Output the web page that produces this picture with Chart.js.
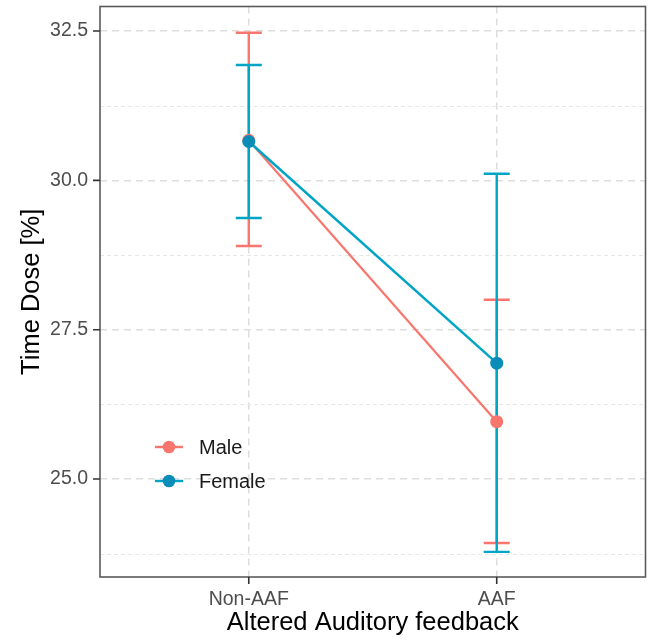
<!DOCTYPE html>
<html>
<head>
<meta charset="utf-8">
<script src="https://cdn.jsdelivr.net/npm/chart.js@4/dist/chart.umd.min.js"></script>
<style>
  html, body { margin: 0; padding: 0; background: #ffffff; }
  #wrap { width: 652px; height: 641px; position: relative; }
</style>
</head>
<body>
<div id="wrap"><canvas id="c" width="652" height="641"></canvas></div>
<script>
// ---- data ----
const categories = ['Non-AAF', 'AAF'];
const xPositions = [1, 2];
const seriesNames = ['Male', 'Female'];
const maleMean = [30.67, 25.96];
const maleUpper = [32.47, 28.00];
const maleLower = [28.90, 23.93];
const femaleMean = [30.65, 26.94];
const femaleUpper = [31.93, 30.11];
const femaleLower = [29.37, 23.78];
const yMajorTicks = [25.0, 27.5, 30.0, 32.5];
const yMinorTicks = [23.75, 26.25, 28.75, 31.25];
const xTitle = 'Altered Auditory feedback';
const yTitle = 'Time Dose [%]';

const FONT = "'Liberation Sans', Arial, Helvetica, sans-serif";
const MALE_COL = '#F8766D';
const FEMALE_LINE = '#00A5C5';
const FEMALE_PT = '#0A8CB9';

function pts(arr) { return xPositions.map((x, i) => ({ x: x, y: arr[i] })); }

const errorBarPlugin = {
  id: 'errorBars',
  beforeDatasetsDraw(chart) {
    const ctx = chart.ctx;
    const xs = chart.scales.x, ys = chart.scales.y;
    chart.data.datasets.forEach(ds => {
      ctx.save();
      ctx.strokeStyle = ds.borderColor;
      ctx.lineWidth = 2.4;
      ctx.setLineDash([]);
      xPositions.forEach((xv, i) => {
        const px = xs.getPixelForValue(xv);
        const yHi = ys.getPixelForValue(ds.errUpper[i]);
        const yLo = ys.getPixelForValue(ds.errLower[i]);
        const hw = 13;
        ctx.beginPath();
        ctx.moveTo(px, yHi); ctx.lineTo(px, yLo);
        ctx.moveTo(px - hw, yHi); ctx.lineTo(px + hw, yHi);
        ctx.moveTo(px - hw, yLo); ctx.lineTo(px + hw, yLo);
        ctx.stroke();
      });
      ctx.restore();
    });
  }
};

const minorGridPlugin = {
  id: 'minorGrid',
  beforeDatasetsDraw(chart) {
    const ctx = chart.ctx, a = chart.chartArea, ys = chart.scales.y;
    ctx.save();
    ctx.strokeStyle = '#E6E6E6';
    ctx.lineWidth = 1;
    ctx.setLineDash([4, 3]);
    yMinorTicks.forEach(v => {
      const py = Math.round(ys.getPixelForValue(v)) + 0.5;
      ctx.beginPath();
      ctx.moveTo(a.left, py); ctx.lineTo(a.right, py);
      ctx.stroke();
    });
    ctx.restore();
  }
};

const frameLegendPlugin = {
  id: 'frameLegend',
  afterDraw(chart) {
    const ctx = chart.ctx, a = chart.chartArea;
    const xs = chart.scales.x, ys = chart.scales.y;
    ctx.save();
    ctx.strokeStyle = '#5A5A5A';
    ctx.lineWidth = 1.6;
    ctx.setLineDash([]);
    ctx.strokeRect(a.left, a.top, a.right - a.left, a.bottom - a.top);
    // axis tick marks
    ctx.strokeStyle = '#333333';
    ctx.lineWidth = 1.6;
    ctx.beginPath();
    yMajorTicks.forEach(v => {
      const py = ys.getPixelForValue(v);
      ctx.moveTo(a.left - 7, py); ctx.lineTo(a.left, py);
    });
    xPositions.forEach(v => {
      const px = xs.getPixelForValue(v);
      ctx.moveTo(px, a.bottom); ctx.lineTo(px, a.bottom + 7);
    });
    ctx.stroke();
    // legend
    const rows = [447, 481];
    chart.data.datasets.forEach((ds, i) => {
      const cy = rows[i];
      ctx.strokeStyle = ds.borderColor;
      ctx.lineWidth = 2.4;
      ctx.beginPath();
      ctx.moveTo(155, cy); ctx.lineTo(183, cy);
      ctx.stroke();
      ctx.fillStyle = ds.pointBackgroundColor;
      ctx.beginPath();
      ctx.arc(169, cy, 6.3, 0, Math.PI * 2);
      ctx.fill();
      ctx.fillStyle = '#1a1a1a';
      ctx.font = '20px ' + FONT;
      ctx.textAlign = 'left';
      ctx.textBaseline = 'middle';
      ctx.fillText(ds.label, 199, cy + 1);
    });
    ctx.restore();
  }
};

new Chart(document.getElementById('c'), {
  type: 'line',
  data: {
    datasets: [
      {
        label: seriesNames[0],
        data: pts(maleMean),
        errUpper: maleUpper, errLower: maleLower,
        borderColor: MALE_COL, backgroundColor: MALE_COL,
        pointBackgroundColor: MALE_COL, pointBorderColor: MALE_COL,
        borderWidth: 2.2, pointRadius: 6.5, pointBorderWidth: 0,
        order: 1
      },
      {
        label: seriesNames[1],
        data: pts(femaleMean),
        errUpper: femaleUpper, errLower: femaleLower,
        borderColor: FEMALE_LINE, backgroundColor: FEMALE_PT,
        pointBackgroundColor: FEMALE_PT, pointBorderColor: FEMALE_PT,
        borderWidth: 2.5, pointRadius: 6.5, pointBorderWidth: 0,
        order: 0
      }
    ]
  },
  options: {
    responsive: false,
    animation: false,
    layout: { padding: { left: 0, top: 6, right: 4, bottom: 0 } },
    plugins: { legend: { display: false }, tooltip: { enabled: false } },
    scales: {
      x: {
        type: 'linear',
        min: 0.4, max: 2.6,
        afterBuildTicks: s => { s.ticks = xPositions.map(v => ({ value: v })); },
        afterFit: s => { s.height = 64; s.paddingLeft = 0; s.paddingRight = 0; },
        ticks: {
          callback: v => categories[xPositions.indexOf(v)] || '',
          color: '#4D4D4D', font: { family: FONT, size: 19.5 },
          padding: 4, maxRotation: 0, autoSkip: false
        },
        grid: { color: '#DDDDDD', lineWidth: 1.5, tickLength: 7, tickColor: 'rgba(0,0,0,0)', tickWidth: 1.5 },
        border: { display: false, dash: [7, 5] },
        title: { display: true, text: xTitle, color: '#000000', font: { family: FONT, size: 25.5 }, padding: { top: 0, bottom: 3 } }
      },
      y: {
        type: 'linear',
        min: 23.36, max: 32.91,
        afterBuildTicks: s => { s.ticks = yMajorTicks.map(v => ({ value: v })); },
        afterFit: s => { s.width = 100; s.paddingTop = 0; s.paddingBottom = 0; },
        ticks: {
          callback: v => v.toFixed(1),
          color: '#4D4D4D', font: { family: FONT, size: 19.5 },
          padding: 5
        },
        grid: { color: '#DDDDDD', lineWidth: 1.5, tickLength: 7, tickColor: 'rgba(0,0,0,0)', tickWidth: 1.5 },
        border: { display: false, dash: [7, 5] },
        title: { display: true, text: yTitle, color: '#000000', font: { family: FONT, size: 25.5 }, padding: { top: 17, bottom: 0 } }
      }
    }
  },
  plugins: [minorGridPlugin, errorBarPlugin, frameLegendPlugin]
});
</script>
</body>
</html>
